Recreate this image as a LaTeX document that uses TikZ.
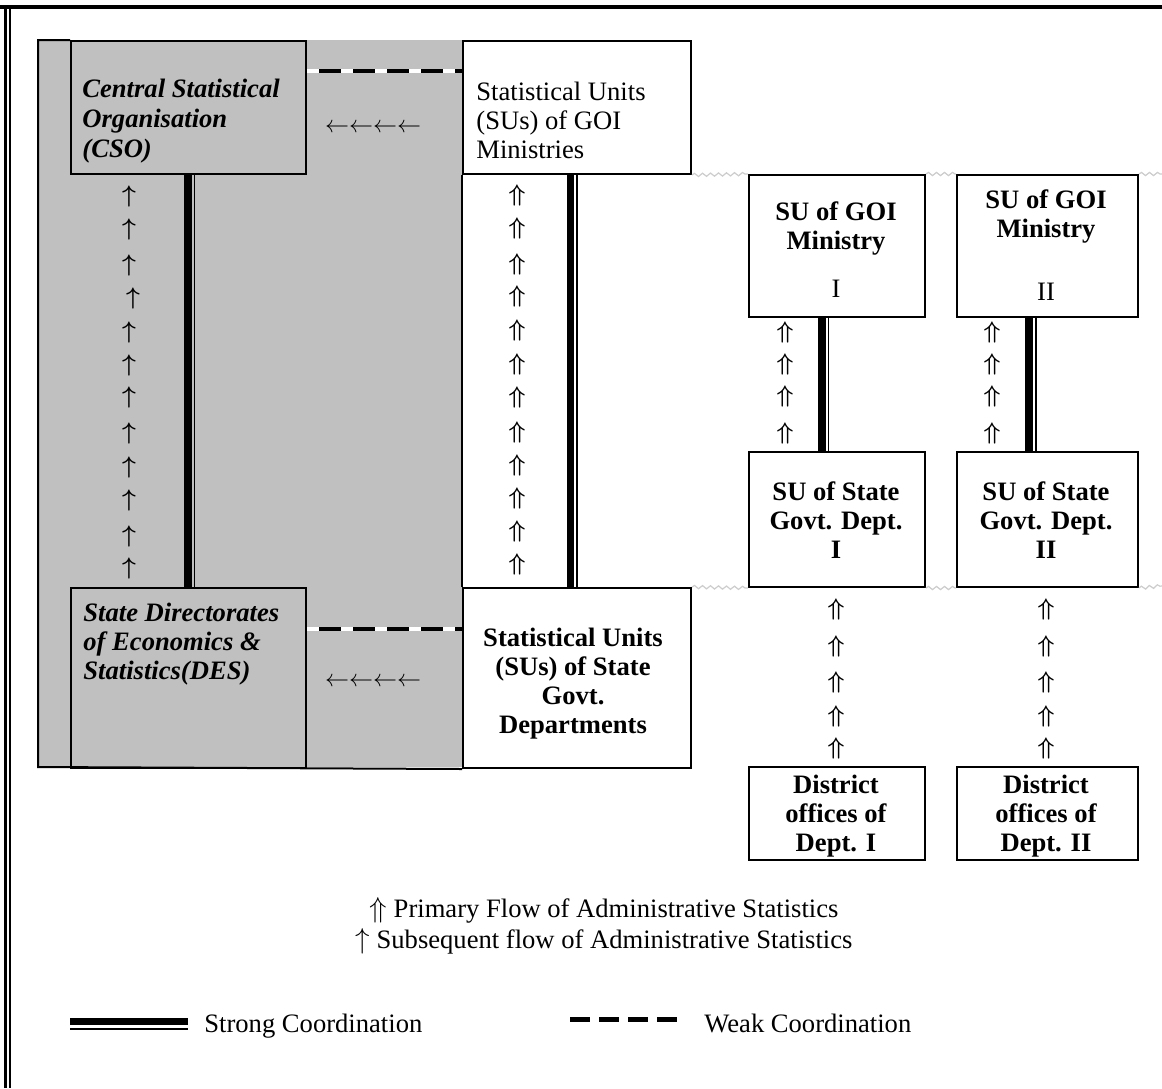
\documentclass[tikz,border=0pt]{standalone}
\usepackage{fontspec}
\setmainfont{Liberation Serif}
\usetikzlibrary{decorations.pathmorphing}
\definecolor{shadegray}{RGB}{192,192,192}
\definecolor{squigc}{RGB}{205,205,205}
\begin{document}
\begin{tikzpicture}[x=0.5pt,y=-0.5pt,
  bx/.style={draw, line width=1pt, inner sep=0pt, anchor=north west},
  txt/.style={inner sep=0pt, font=\fontsize{13.3pt}{14.5pt}\selectfont},
  lt/.style={inner sep=0pt, align=left, anchor=north west},
  ct/.style={inner sep=0pt, align=center, anchor=north, font=\fontsize{13.3pt}{14.5pt}\selectfont\bfseries},
  arwu/.style={inner sep=0pt, font=\fontsize{13pt}{14pt}\selectfont\boldmath},
  arwd/.style={inner sep=0pt, font=\fontsize{12pt}{14pt}\selectfont\boldmath},
  arwl/.style={inner sep=0pt, font=\fontsize{13pt}{14pt}\selectfont},
  sthick/.style={line width=3.8pt},
  sthin/.style={line width=0.9pt},
  weak/.style={line width=2pt, dash pattern=on 11pt off 6pt, dash phase=11pt, preaction={draw=white, solid, line width=2pt}},
  weakleg/.style={line width=2.5pt, dash pattern=on 10pt off 4.5pt},
  squig/.style={draw=squigc, line width=0.6pt, decorate, decoration={snake, amplitude=0.8pt, segment length=4pt}}
]
\useasboundingbox (0,0) rectangle (1162,1088);
\fill[white] (0,0) rectangle (1162,1088);
% outer frame
\draw[line width=2pt] (0,7) -- (1162,7);
\draw[line width=1.5pt] (5,7) -- (5,1088);
\draw[line width=1pt] (10,9) -- (10,1088);
% shaded area
\fill[fill=shadegray] (38,40) rectangle (462,767);
% boxes
\node[bx, minimum width=117.5pt, minimum height=66.5pt] (cso) at (70,40) {};
\node[bx, minimum width=114pt, minimum height=66.5pt] (sugoi) at (462,40) {};
\node[bx, minimum width=117.5pt, minimum height=90pt] (des) at (70,587) {};
\node[bx, minimum width=114pt, minimum height=90pt] (sust) at (462,587) {};
\node[bx, minimum width=88pt, minimum height=71pt] (m1) at (748,174) {};
\node[bx, minimum width=90.5pt, minimum height=71pt] (m2) at (956,174) {};
\node[bx, minimum width=88pt, minimum height=67.5pt] (s1) at (748,451) {};
\node[bx, minimum width=90.5pt, minimum height=67.5pt] (s2) at (956,451) {};
\node[bx, minimum width=88pt, minimum height=46.5pt] (d1) at (748,766) {};
\node[bx, minimum width=90.5pt, minimum height=46.5pt] (d2) at (956,766) {};
% outline of shaded area
\draw[line width=1pt] (cso.north west) -- (38,40) -- (38,767) -- (sust.south west);
\draw[line width=1pt] (sugoi.south west) -- (sust.north west);
% squiggles
\draw[squig] (sugoi.south east) -- (m1.north west);
\draw[squig] (m1.north east) -- (m2.north west);
\draw[squig] (m2.north east) -- (1162,174);
\draw[squig] (sust.north east) -- (s1.south west);
\draw[squig] (s1.south east) -- (s2.south west);
\draw[squig] (s2.south east) -- (1162,586);
% strong coordination
\draw[sthick] ([xshift=-0.25pt]cso.south) -- ([xshift=-0.25pt]des.north);
\draw[sthin] ([xshift=3pt]cso.south) -- ([xshift=3pt]des.north);
\draw[sthick] ([xshift=-3.25pt]sugoi.south) -- ([xshift=-3.25pt]sust.north);
\draw[sthin] (sugoi.south) -- (sust.north);
\draw[sthick] ([xshift=-7.5pt]m1.south) -- ([xshift=-7.5pt]s1.north);
\draw[sthin] ([xshift=-4.25pt]m1.south) -- ([xshift=-4.25pt]s1.north);
\draw[sthick] ([xshift=-9.25pt]m2.south) -- ([xshift=-9.25pt]s2.north);
\draw[sthin] ([xshift=-5.75pt]m2.south) -- ([xshift=-5.75pt]s2.north);
% weak coordination
\draw[weak] ([yshift=18.25pt]cso.east) -- ([yshift=18.25pt]sugoi.west);
\draw[weak] ([yshift=24.5pt]des.east) -- ([yshift=24.5pt]sust.west);
% texts
\node[lt, font=\fontsize{13.3pt}{15pt}\selectfont\bfseries\itshape] (csot) at (82,79) {Central Statistical\\Organisation\\(CSO)};
\node[lt, font=\fontsize{13.3pt}{14.5pt}\selectfont] (sugoit) at (476,82) {Statistical Units\\(SUs) of GOI\\Ministries};
\node[lt, font=\fontsize{13.3pt}{14.5pt}\selectfont\bfseries\itshape] (dest) at (83,603) {State Directorates\\of Economics \&\\Statistics(DES)};
\node[ct] (sustt) at (573,628) {Statistical Units\\(SUs) of State\\Govt.\\Departments};
\node[ct] (m1t) at (836,201) {SU of GOI\\Ministry};
\node[txt, anchor=base] (m1n) at (836,297) {I};
\node[ct] (m2t) at (1046,189) {SU of GOI\\Ministry};
\node[txt, anchor=base] (m2n) at (1046,300) {II};
\node[ct] (s1t) at (836,481) {SU of State\\Govt. Dept.\\I};
\node[ct] (s2t) at (1046,481) {SU of State\\Govt. Dept.\\II};
\node[ct] (d1t) at (836,775) {District\\offices of\\Dept. I};
\node[ct] (d2t) at (1046,775) {District\\offices of\\Dept. II};
% flow arrows
\node[arwl] (la1) at (373,128) {$\leftarrow\leftarrow\leftarrow\leftarrow$};
\node[arwl] (la2) at (373,682) {$\leftarrow\leftarrow\leftarrow\leftarrow$};
\foreach \x/\y [count=\i] in {129/196,129/229,129/265,133/298,129/332,129/365,129/397,129/433,129/467,129/500,129/536,129/568}
  \node[arwu] (up\i) at (\x,\y) {$\uparrow$};
\foreach \y [count=\i] in {195,228,264,296,330,364,397,432,465,498,531,564}
  \node[arwd] (pu\i) at (517,\y) {$\Uparrow$};
\foreach \y [count=\i] in {332,364,396,433} {
  \node[arwd] (pa\i) at (785,\y) {$\Uparrow$};
  \node[arwd] (pb\i) at (992,\y) {$\Uparrow$};
}
\foreach \y [count=\i] in {609,646,682,716,748} {
  \node[arwd] (qa\i) at (836,\y) {$\Uparrow$};
  \node[arwd] (qb\i) at (1046,\y) {$\Uparrow$};
}
% legend
\node[txt, anchor=base] (lg1) at (604,917) {$\Uparrow$ Primary Flow of Administrative Statistics};
\node[txt, anchor=base] (lg2) at (604,948) {$\uparrow$ Subsequent flow of Administrative Statistics};
\coordinate (sl1) at (70,1021.5);
\coordinate (sl2) at (188,1021.5);
\draw[sthick] (sl1) -- (sl2);
\draw[sthin] ([yshift=-3.75pt]sl1) -- ([yshift=-3.75pt]sl2);
\node[txt, anchor=base west] (slt) at (204,1032) {Strong Coordination};
\coordinate (wl1) at (570,1019);
\coordinate (wl2) at (679,1019);
\draw[weakleg] (wl1) -- (wl2);
\node[txt, anchor=base west] (wlt) at (704,1032) {Weak Coordination};
\end{tikzpicture}
\end{document}
